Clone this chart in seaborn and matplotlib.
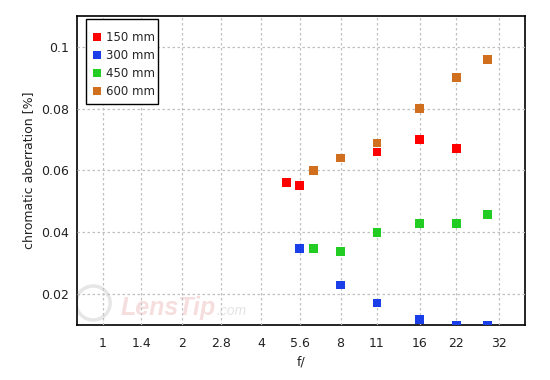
import matplotlib
matplotlib.use("Agg")
import matplotlib.pyplot as plt
import matplotlib.ticker as mticker
from matplotlib.patches import Ellipse, Rectangle
import pandas as pd
import seaborn as sns

# values
f_150 = [5.0, 5.6, 11, 16, 22]
ca_150 = [0.056, 0.055, 0.066, 0.070, 0.067]
f_300 = [5.6, 8, 11, 16, 22, 29]
ca_300 = [0.0348, 0.0229, 0.0171, 0.0118, 0.0100, 0.0100]
f_450 = [6.3, 8, 11, 16, 22, 29]
ca_450 = [0.0348, 0.0338, 0.040, 0.0429, 0.0429, 0.0458]
f_600 = [6.3, 8, 11, 16, 22, 29]
ca_600 = [0.060, 0.064, 0.0689, 0.080, 0.090, 0.096]

series = ["150 mm", "300 mm", "450 mm", "600 mm"]
colors = ["#ff0000", "#1a3fe8", "#22cc22", "#d0701e"]
x_ticks = [1, 1.4, 2, 2.8, 4, 5.6, 8, 11, 16, 22, 32]
x_tick_labels = ["1", "1.4", "2", "2.8", "4", "5.6", "8", "11", "16", "22", "32"]
y_ticks = [0.02, 0.04, 0.06, 0.08, 0.1]
y_tick_labels = ["0.02", "0.04", "0.06", "0.08", "0.1"]

frames = []
for name, fs, cas in zip(series, [f_150, f_300, f_450, f_600],
                         [ca_150, ca_300, ca_450, ca_600]):
    frames.append(pd.DataFrame({"f": fs, "ca": cas, "lens": name}))
data = pd.concat(frames, ignore_index=True)

sns.set_style("white")
plt.rcParams["font.family"] = ["DejaVu Sans"]

fig = plt.figure(figsize=(5.5, 3.8), dpi=100)
ax = fig.add_axes([0.14, 0.145, 0.8145, 0.813])

# faint site watermark
ax.add_patch(Ellipse((0.036, 0.071), 0.076, 0.110, transform=ax.transAxes,
                     fill=False, edgecolor="#e6e6e6", linewidth=2.5, zorder=1))
ax.text(0.098, 0.032, "LensTip", transform=ax.transAxes, fontsize=18,
        fontweight="bold", style="italic", family="Liberation Sans",
        color="#f6dede", zorder=1)
ax.text(0.312, 0.032, ".com", transform=ax.transAxes, fontsize=10,
        style="italic", family="Liberation Sans", color="#e4e4e4", zorder=1)

sns.scatterplot(
    data=data, x="f", y="ca", hue="lens", hue_order=series,
    palette=colors, marker="s", s=40, linewidth=0, ax=ax, zorder=3,
)

ax.set_xscale("log", base=2)
ax.set_xlim(0.796, 40.2)
ax.set_ylim(0.01, 0.11)
ax.xaxis.set_major_locator(mticker.FixedLocator(x_ticks))
ax.xaxis.set_major_formatter(mticker.FixedFormatter(x_tick_labels))
ax.xaxis.set_minor_locator(mticker.NullLocator())
ax.yaxis.set_major_locator(mticker.FixedLocator(y_ticks))
ax.yaxis.set_major_formatter(mticker.FixedFormatter(y_tick_labels))
ax.yaxis.set_minor_locator(mticker.FixedLocator([0.03, 0.05, 0.07, 0.09]))

ax.grid(True, which="major", color="#c0c0c0", linestyle=(0, (2, 2)), linewidth=0.9)
ax.set_axisbelow(False)
ax.tick_params(axis="both", which="both", direction="in", length=5, width=1,
               color="black", labelsize=9, labelcolor="#222222")
ax.tick_params(axis="x", pad=9)
ax.tick_params(axis="y", pad=6)
ax.tick_params(top=False, right=False)
for sp in ax.spines.values():
    sp.set_color("black")
    sp.set_linewidth(1.2)

ax.set_xlabel("f/", fontsize=9, color="#222222")
ax.set_ylabel("chromatic aberration [%]", fontsize=9, color="#222222")

# legend box drawn by hand so the padding matches
ax.add_patch(Rectangle((0.020, 0.715), 0.161, 0.275, transform=ax.transAxes,
                       facecolor="white", edgecolor="black", linewidth=1.0,
                       zorder=4))
leg = ax.legend(loc="upper left", bbox_to_anchor=(0.0357, 0.950), frameon=False,
                fontsize=8.5, handletextpad=0.35, handlelength=0.75,
                borderpad=0, borderaxespad=0, labelspacing=0.42,
                markerscale=0.85)
leg.set_zorder(5)

fig.savefig("out.png", dpi=100)
